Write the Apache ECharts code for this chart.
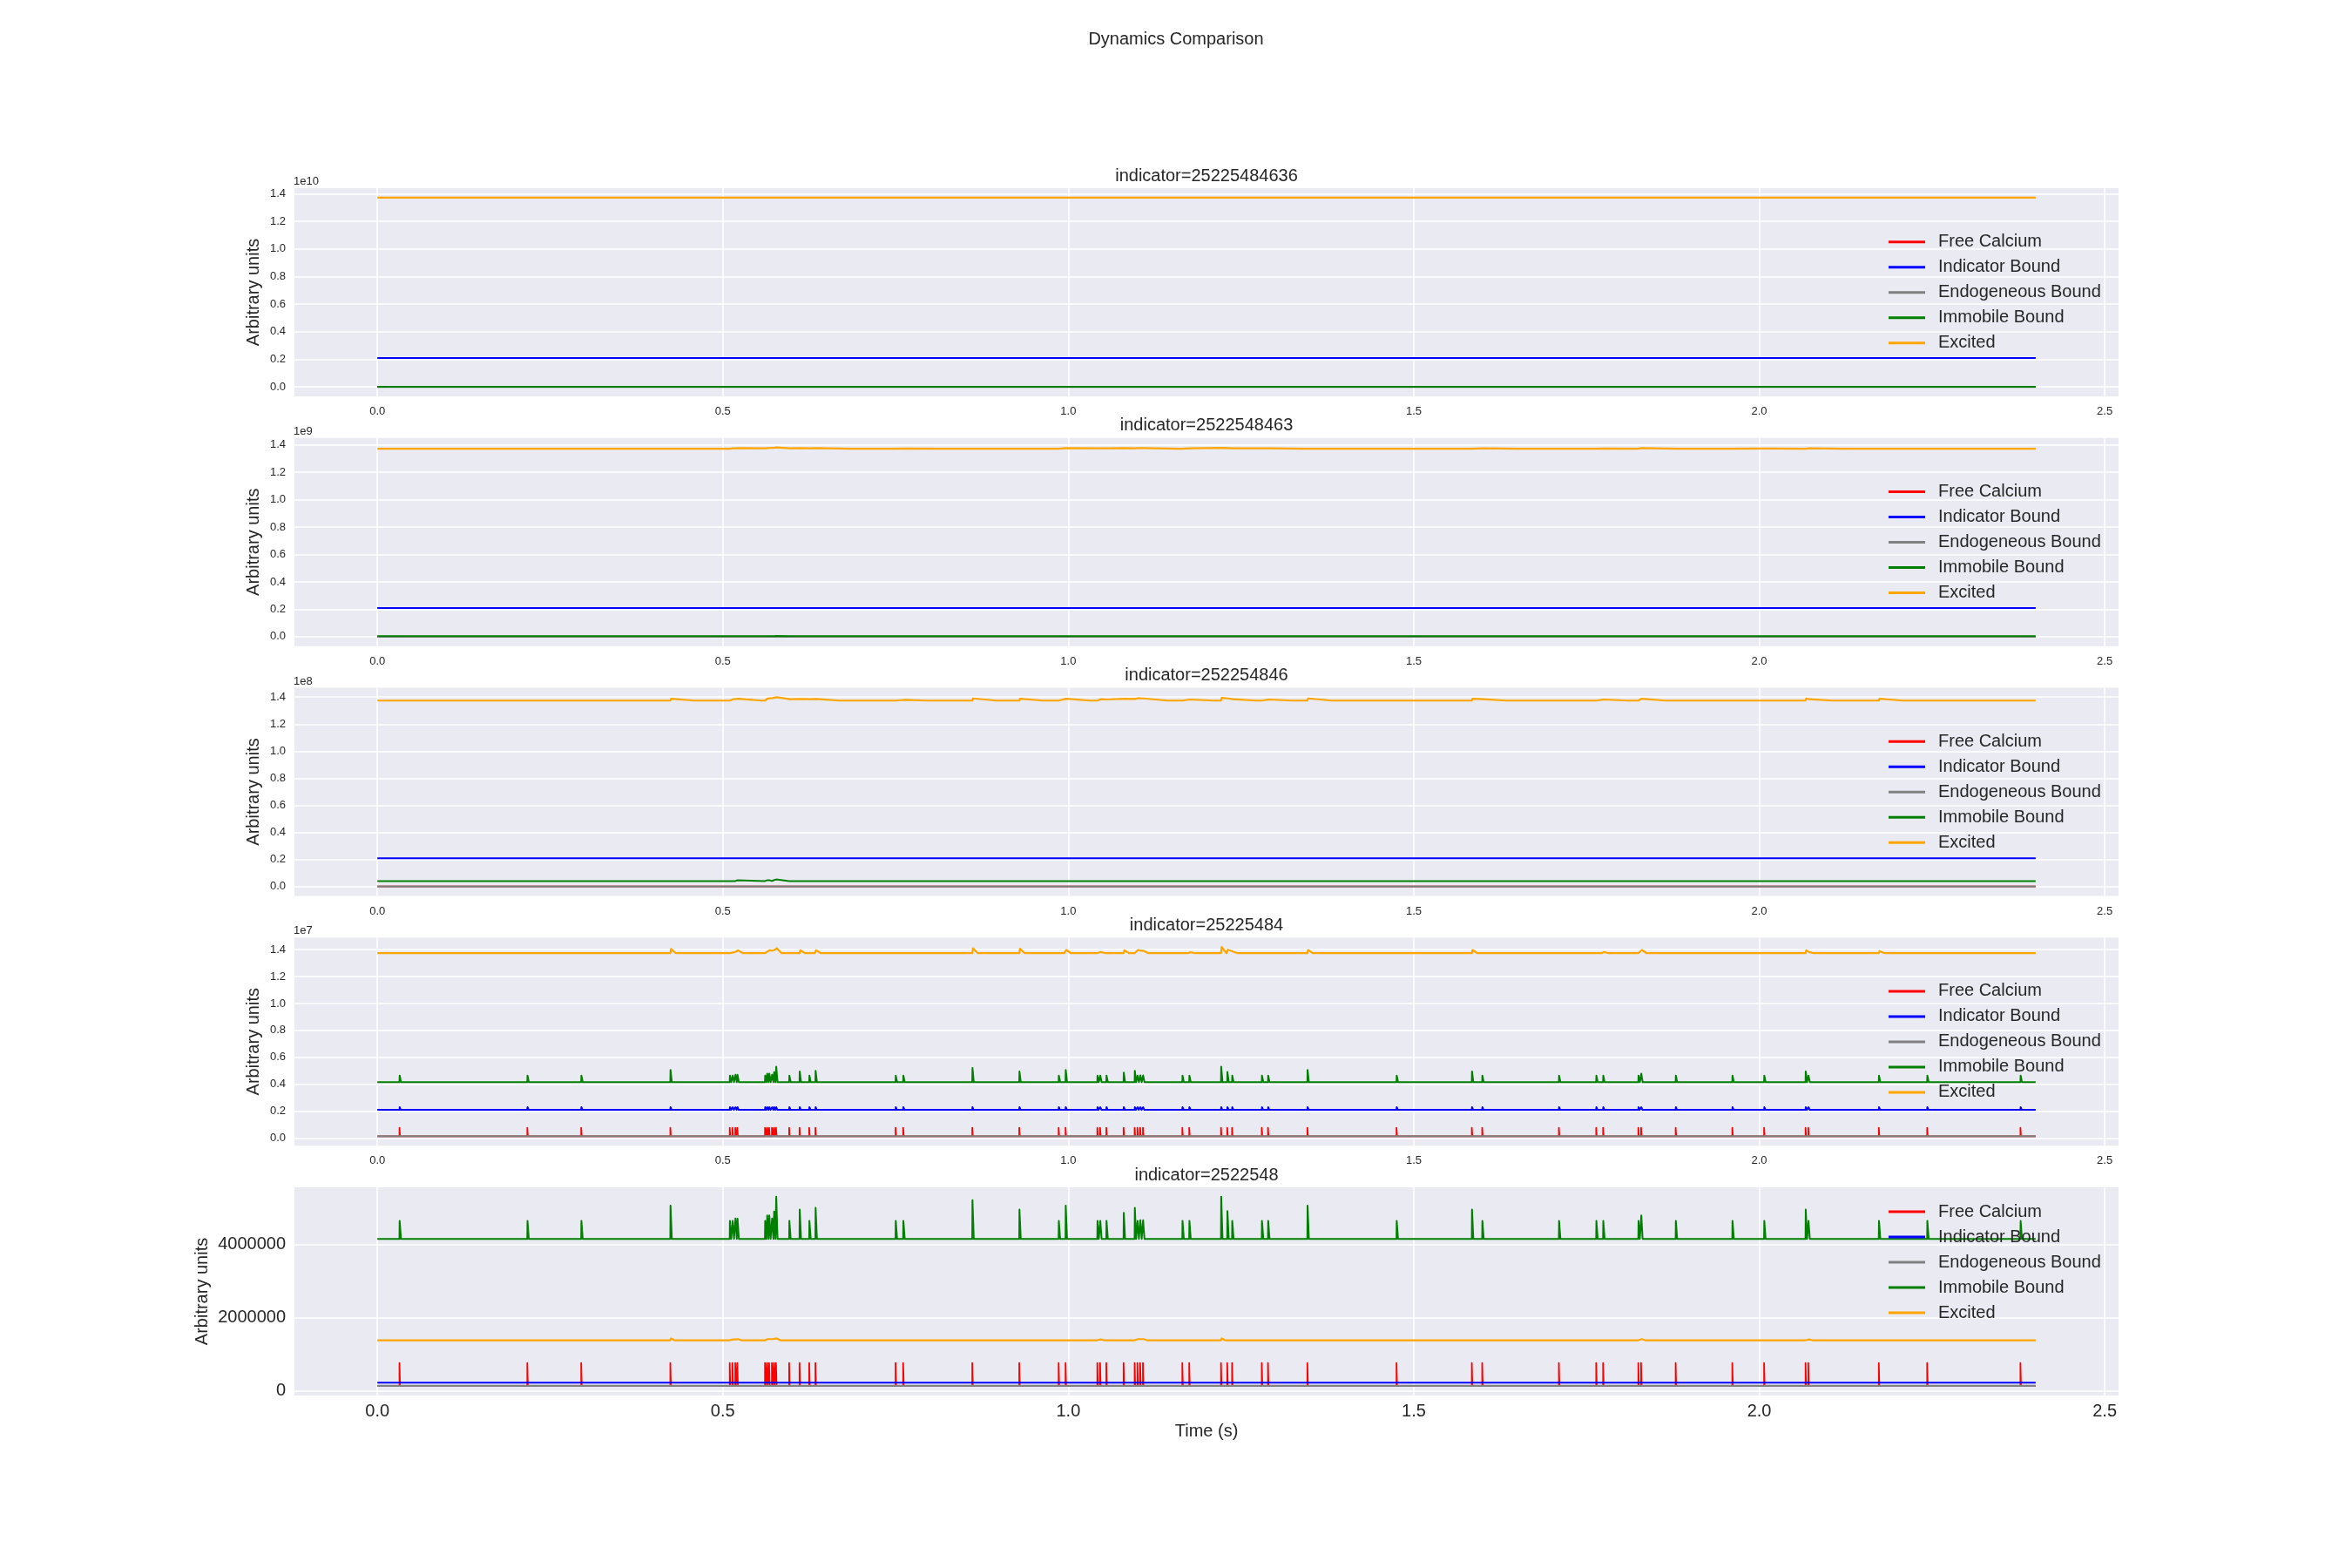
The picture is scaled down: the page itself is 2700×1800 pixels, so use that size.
<!DOCTYPE html>
<html>
<head>
<meta charset="utf-8">
<script src="https://cdn.jsdelivr.net/npm/echarts@6/dist/echarts.min.js"></script>
<style>
html,body{margin:0;padding:0;background:#ffffff;}
#chart{width:2700px;height:1800px;}
</style>
</head>
<body>
<div id="chart"></div>
<script>
// ---------------- DATA ----------------
const figureTitle = 'Dynamics Comparison';
const panelTitles = ['indicator=25225484636', 'indicator=2522548463', 'indicator=252254846', 'indicator=25225484', 'indicator=2522548'];
const offsetTexts = ['1e10', '1e9', '1e8', '1e7', ''];
const panelExponents = [10, 9, 8, 7, 0];
const seriesNames = ['Free Calcium', 'Indicator Bound', 'Endogeneous Bound', 'Immobile Bound', 'Excited'];
const seriesColors = ['#ff0000', '#0000ff', '#808080', '#008000', '#ffa500'];

const xTickValues = [0, 0.5, 1.0, 1.5, 2.0, 2.5];
const yTickUnits = [0, 0.2, 0.4, 0.6, 0.8, 1.0, 1.2, 1.4];      // panels 1-4, times 10^exponent
const yTicksLastPanel = [0, 2000000, 4000000];

const timeStart = 0;
const timeEnd = 2.4;   // s

// stimulus events (s)
const eventTimes = [0.032, 0.217, 0.295, 0.424, 0.510, 0.514, 0.518, 0.521, 0.561, 0.564,
                    0.567, 0.571, 0.574, 0.577, 0.596, 0.611, 0.625, 0.634, 0.750, 0.761,
                    0.861, 0.929, 0.986, 0.996, 1.042, 1.046, 1.055, 1.080, 1.096, 1.100,
                    1.104, 1.108, 1.165, 1.175, 1.221, 1.230, 1.237, 1.280, 1.289, 1.346,
                    1.475, 1.584, 1.599, 1.710, 1.764, 1.774, 1.825, 1.829, 1.879, 1.961,
                    2.007, 2.067, 2.071, 2.173, 2.243, 2.378];

// Immobile Bound peak value at each event (millions)
const immobilePeaksM = [4.64, 4.64, 4.64, 5.06, 4.64, 4.64, 4.71, 4.70, 4.64, 4.79,
                        4.79, 4.71, 4.90, 5.30, 4.64, 4.95, 4.64, 5.00, 4.64, 4.64,
                        5.21, 4.95, 4.64, 5.06, 4.64, 4.64, 4.64, 4.86, 5.00, 4.64,
                        4.66, 4.66, 4.64, 4.64, 5.30, 4.91, 4.64, 4.64, 4.64, 5.06,
                        4.64, 4.95, 4.64, 4.64, 4.64, 4.64, 4.64, 4.79, 4.64, 4.64,
                        4.64, 4.95, 4.64, 4.64, 4.64, 4.64];
const immobileBase = 4.15e6;

// Free Calcium: baseline and pulse top
const freeBase = 1.29e5;
const freePeak = 7.6e5;
// Endogeneous Bound: flat
const endoBase = 1.33e5;

// Indicator Bound per panel: baseline and typical bump height at events
const indicatorBase = [2.10e9, 2.10e8, 2.10e7, 2.09e6, 2.20e5];
const indicatorBump = [0, 0, 6e5, 2.0e5, 1.5e4];

// Excited per panel baseline
const excitedBase = [1.373e10, 1.372e9, 1.374e8, 1.374e7, 1.381e6];

// Excited bump heights above baseline at each event, per panel
const excitedBumpsP2 = [2e6, 2e6, 2e6, 5e6, 3e6, 3e6, 4e6, 5e6, 4e6, 5e6,
                        6e6, 7e6, 8e6, 10e6, 4e6, 5e6, 3e6, 5e6, 2e6, 2e6,
                        5e6, 5e6, 3e6, 5e6, 3e6, 3e6, 3e6, 5e6, 4e6, 6e6,
                        5e6, 5e6, 3e6, 3e6, 7e6, 5e6, 3e6, 3e6, 3e6, 5e6,
                        2e6, 5e6, 3e6, 2e6, 2e6, 2e6, 3e6, 5e6, 2e6, 2e6,
                        2e6, 5e6, 3e6, 4e6, 2e6, 2e6];
const excitedBumpsP3 = [0.5e6, 0.5e6, 0.5e6, 1.4e6, 1.0e6, 1.0e6, 1.2e6, 1.4e6, 1.2e6, 1.5e6,
                        1.7e6, 1.9e6, 2.2e6, 2.5e6, 1.0e6, 1.2e6, 1.0e6, 1.2e6, 0.5e6, 0.5e6,
                        1.6e6, 1.4e6, 1.0e6, 1.4e6, 1.0e6, 1.0e6, 0.8e6, 1.4e6, 1.2e6, 1.8e6,
                        1.6e6, 1.6e6, 0.8e6, 0.8e6, 2.0e6, 1.6e6, 1.0e6, 0.8e6, 0.8e6, 1.6e6,
                        0.8e6, 1.4e6, 1.0e6, 0.8e6, 0.8e6, 0.8e6, 1.0e6, 1.4e6, 0.8e6, 0.8e6,
                        0.8e6, 1.6e6, 1.0e6, 1.4e6, 0.8e6, 0.8e6];
const excitedBumpsP4 = [0.7e5, 0.7e5, 0.7e5, 3.1e5, 0.5e5, 0.5e5, 1.1e5, 2.2e5, 0.9e5, 1.4e5,
                        2.2e5, 1.9e5, 2.4e5, 3.7e5, 0.5e5, 2.2e5, 0.9e5, 2.2e5, 0.9e5, 0.9e5,
                        3.7e5, 3.3e5, 0.7e5, 2.4e5, 0.9e5, 0.9e5, 0.7e5, 2.2e5, 0.9e5, 2.4e5,
                        1.8e5, 1.8e5, 0.7e5, 0.7e5, 4.6e5, 2.6e5, 1.3e5, 0.9e5, 0.9e5, 2.4e5,
                        0.7e5, 2.4e5, 0.9e5, 0.9e5, 0.9e5, 0.9e5, 0.9e5, 2.4e5, 0.9e5, 0.9e5,
                        0.7e5, 2.2e5, 0.9e5, 1.6e5, 0.9e5, 0.9e5];
const excitedBumpsP5 = [2e4, 2e4, 2e4, 5e4, 2e4, 2e4, 2e4, 3e4, 2e4, 3e4,
                        3e4, 3e4, 4e4, 5e4, 2e4, 3e4, 2e4, 3e4, 2e4, 2e4,
                        4.5e4, 4e4, 2e4, 4e4, 2e4, 2e4, 2e4, 3e4, 3e4, 3e4,
                        3e4, 3e4, 2e4, 2e4, 5e4, 3e4, 2e4, 2e4, 2e4, 4e4,
                        2e4, 4e4, 2e4, 2e4, 2e4, 2e4, 2e4, 3e4, 2e4, 2e4,
                        2e4, 3.5e4, 2e4, 3e4, 2e4, 2e4];

// ---------------- BUILD ----------------
const FONT = '"Liberation Sans", Arial, sans-serif';
const TEXT = '#262626';
const gridTops = [216, 502.75, 789.5, 1076.25, 1363];
const GL = 338, GW = 2094, GH = 239;
const excitedBumpSets = [null, excitedBumpsP2, excitedBumpsP3, excitedBumpsP4, excitedBumpsP5];
const excitedDecay = [0.01, 0.05, 0.035, 0.008, 0.006];

function buildSpikes(base, heights, rise, decay) {
  const pts = [[timeStart, base]];
  if (heights) {
    let open = false;
    for (let i = 0; i < eventTimes.length; i++) {
      const t = eventTimes[i];
      if (!open) pts.push([t, base]);
      pts.push([t + rise, base + heights[i]]);
      const end = Math.min(t + decay, timeEnd);
      if (i + 1 < eventTimes.length && eventTimes[i + 1] < end) {
        open = true;
      } else {
        pts.push([end, base]);
        open = false;
      }
    }
  }
  pts.push([timeEnd, base]);
  return pts;
}
function buildPulses(base, peak, width) {
  const pts = [[timeStart, base]];
  eventTimes.forEach(t => {
    pts.push([t, base], [t, peak], [t + width, peak], [t + width, base]);
  });
  pts.push([timeEnd, base]);
  return pts;
}

const measureCtx = document.createElement('canvas').getContext('2d');
function textWidth(str, size) {
  measureCtx.font = size + 'px ' + FONT;
  return measureCtx.measureText(str).width;
}

const grids = [], xAxes = [], yAxes = [], series = [], legends = [];
const titles = [{
  text: figureTitle, left: 'center', top: 35, padding: 0,
  textStyle: {fontFamily: FONT, fontSize: 20, fontWeight: 'normal', color: TEXT}
}];

const xPad = (timeEnd - timeStart) * 0.05;
const lineWidths = [1.8, 2.0, 2.2, 2.0, 2.2];

for (let p = 0; p < 5; p++) {
  const last = p === 4;
  const pData = [
    buildPulses(freeBase, freePeak, 0.0008),
    buildSpikes(indicatorBase[p], indicatorBump[p] ? eventTimes.map(() => indicatorBump[p]) : null, 0.0003, 0.002),
    buildSpikes(endoBase, null, 0, 0),
    buildSpikes(immobileBase, immobilePeaksM.map(v => v * 1e6 - immobileBase), 0.0003, 0.0022),
    buildSpikes(excitedBase[p], excitedBumpSets[p], 0.001, excitedDecay[p])
  ];
  let lo = Infinity, hi = -Infinity;
  pData.forEach(d => d.forEach(pt => { lo = Math.min(lo, pt[1]); hi = Math.max(hi, pt[1]); }));
  const yPad = (hi - lo) * 0.05;
  const scale = Math.pow(10, panelExponents[p]);
  const yTicks = last ? yTicksLastPanel : yTickUnits.map(u => u * scale);
  const tickFont = last ? 20 : 13;

  grids.push({
    left: GL, top: gridTops[p], width: GW, height: GH,
    show: true, backgroundColor: '#EAEAF2', borderWidth: 0,
    containLabel: false, outerBoundsMode: 'none'
  });

  xAxes.push({
    type: 'value', gridIndex: p,
    min: timeStart - xPad, max: timeEnd + xPad,
    axisLine: {show: false},
    axisTick: {show: false, customValues: xTickValues},
    axisLabel: {
      show: true, customValues: xTickValues, margin: last ? 8 : 11,
      formatter: v => v.toFixed(1),
      fontFamily: FONT, fontSize: tickFont, color: TEXT
    },
    splitLine: {show: true, lineStyle: {color: '#ffffff', width: 1.5}},
    name: last ? 'Time (s)' : '',
    nameLocation: 'middle', nameGap: 31, nameMoveOverlap: false,
    nameTextStyle: {fontFamily: FONT, fontSize: 20, color: TEXT}
  });

  yAxes.push({
    type: 'value', gridIndex: p,
    min: lo - yPad, max: hi + yPad,
    axisLine: {show: false},
    axisTick: {show: false, customValues: yTicks},
    axisLabel: {
      show: true, customValues: yTicks, margin: 10,
      formatter: v => last ? String(Math.round(v)) : (v / scale).toFixed(1),
      fontFamily: FONT, fontSize: tickFont, color: TEXT
    },
    splitLine: {show: true, lineStyle: {color: '#ffffff', width: 1.5}},
    name: 'Arbitrary units',
    nameLocation: 'middle', nameRotate: 90, nameGap: last ? 96 : 37, nameMoveOverlap: false,
    nameTextStyle: {fontFamily: FONT, fontSize: 20, color: TEXT}
  });

  pData.forEach((d, k) => {
    series.push({
      type: 'line', name: seriesNames[k], xAxisIndex: p, yAxisIndex: p,
      data: d, showSymbol: false, symbol: 'none', color: seriesColors[k],
      lineStyle: {color: seriesColors[k], width: lineWidths[k], join: 'round'},
      emphasis: {disabled: true}, animation: false, silent: true
    });
  });

  const tw = textWidth(panelTitles[p], 20);
  titles.push({
    text: panelTitles[p], left: GL + GW / 2 - tw / 2, top: gridTops[p] - 24, padding: 0,
    textStyle: {fontFamily: FONT, fontSize: 20, fontWeight: 'normal', color: TEXT}
  });
  if (offsetTexts[p]) {
    titles.push({
      text: offsetTexts[p], left: GL - 1, top: gridTops[p] - 14, padding: 0,
      textStyle: {fontFamily: FONT, fontSize: 13, fontWeight: 'normal', color: TEXT}
    });
  }

  legends.push({
    show: true, orient: 'vertical', left: 2168,
    top: gridTops[p] + (last ? 26 : 59.7) - 8,
    padding: 0, itemGap: 9, itemWidth: 42, itemHeight: 3, icon: 'rect',
    selectedMode: false, data: seriesNames,
    textStyle: {fontFamily: FONT, fontSize: 20, color: TEXT, lineHeight: 20, padding: [0, 0, 0, 10]}
  });
}

const chart = echarts.init(document.getElementById('chart'), null, {renderer: 'canvas', width: 2700, height: 1800});
chart.setOption({
  backgroundColor: '#ffffff',
  animation: false,
  title: titles,
  grid: grids,
  xAxis: xAxes,
  yAxis: yAxes,
  legend: legends,
  tooltip: {show: false},
  series: series
});
</script>
</body>
</html>
